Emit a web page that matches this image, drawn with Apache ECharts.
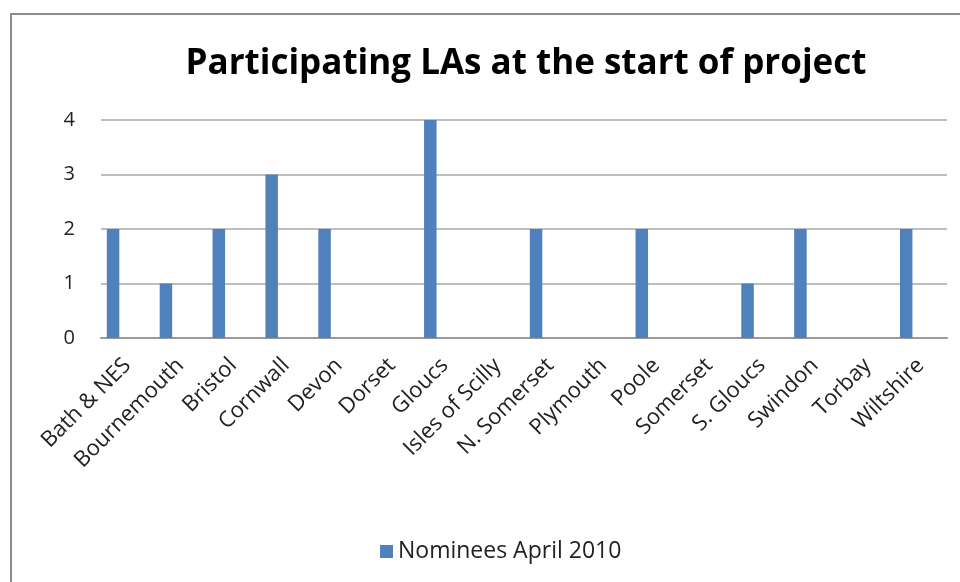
<!DOCTYPE html>
<html><head><meta charset="utf-8">
<script src="https://cdn.jsdelivr.net/npm/echarts@6/dist/echarts.min.js"></script>
<style>html,body{margin:0;padding:0;background:#fff}#c{width:960px;height:582px}</style>
</head><body><div id="c"></div>
<script>
const titleText = 'Participating LAs at the start of project';
const categories = ['Bath & NES','Bournemouth','Bristol','Cornwall','Devon','Dorset','Gloucs','Isles of Scilly','N. Somerset','Plymouth','Poole','Somerset','S. Gloucs','Swindon','Torbay','Wiltshire'];
const seriesName = 'Nominees April 2010';
const nominees = [2,1,2,3,2,0,4,0,2,0,2,0,1,2,0,2];
const yTicks = [0,1,2,3,4];

const FONT = '"Open Sans"';
const chart = echarts.init(document.getElementById('c'), null, {renderer:'canvas'});
chart.setOption({
  animation:false,
  backgroundColor:'#fff',
  graphic:[{type:'rect',shape:{x:11,y:14,width:1000,height:700},style:{fill:'none',stroke:'#8c8c8c',lineWidth:2}}],
  title:{text:titleText,left:521,textAlign:'center',top:42,textStyle:{fontFamily:FONT,fontWeight:'bold',fontSize:35,color:'#000'}},
  legend:{data:[seriesName],bottom:14,left:375,itemWidth:13,itemHeight:13,itemGap:9,icon:'rect',textStyle:{fontFamily:FONT,fontSize:23,color:'#222'}},
  grid:{left:101,right:13,top:120,bottom:244,containLabel:false},
  xAxis:{type:'category',data:categories,boundaryGap:true,
    axisLine:{lineStyle:{color:'#9a9a9a',width:2}},axisTick:{show:false},
    axisLabel:{rotate:45,interval:0,margin:24,fontFamily:FONT,fontSize:22,color:'#222'}},
  yAxis:{type:'value',min:yTicks[0],max:yTicks[yTicks.length-1],interval:1,
    axisLine:{show:false},axisTick:{show:false},
    splitLine:{lineStyle:{color:'#a8a8a8',width:1.5}},
    axisLabel:{margin:26,fontFamily:FONT,fontSize:20,color:'#222'}},
  series:[
    {name:seriesName,type:'bar',data:nominees,barWidth:12.5,barGap:'15%',itemStyle:{color:'#4f81bd'}},
    {name:'_b',type:'bar',data:[],barWidth:12.5},
    {name:'_c',type:'bar',data:[],barWidth:12.5}
  ]
});
</script></body></html>
